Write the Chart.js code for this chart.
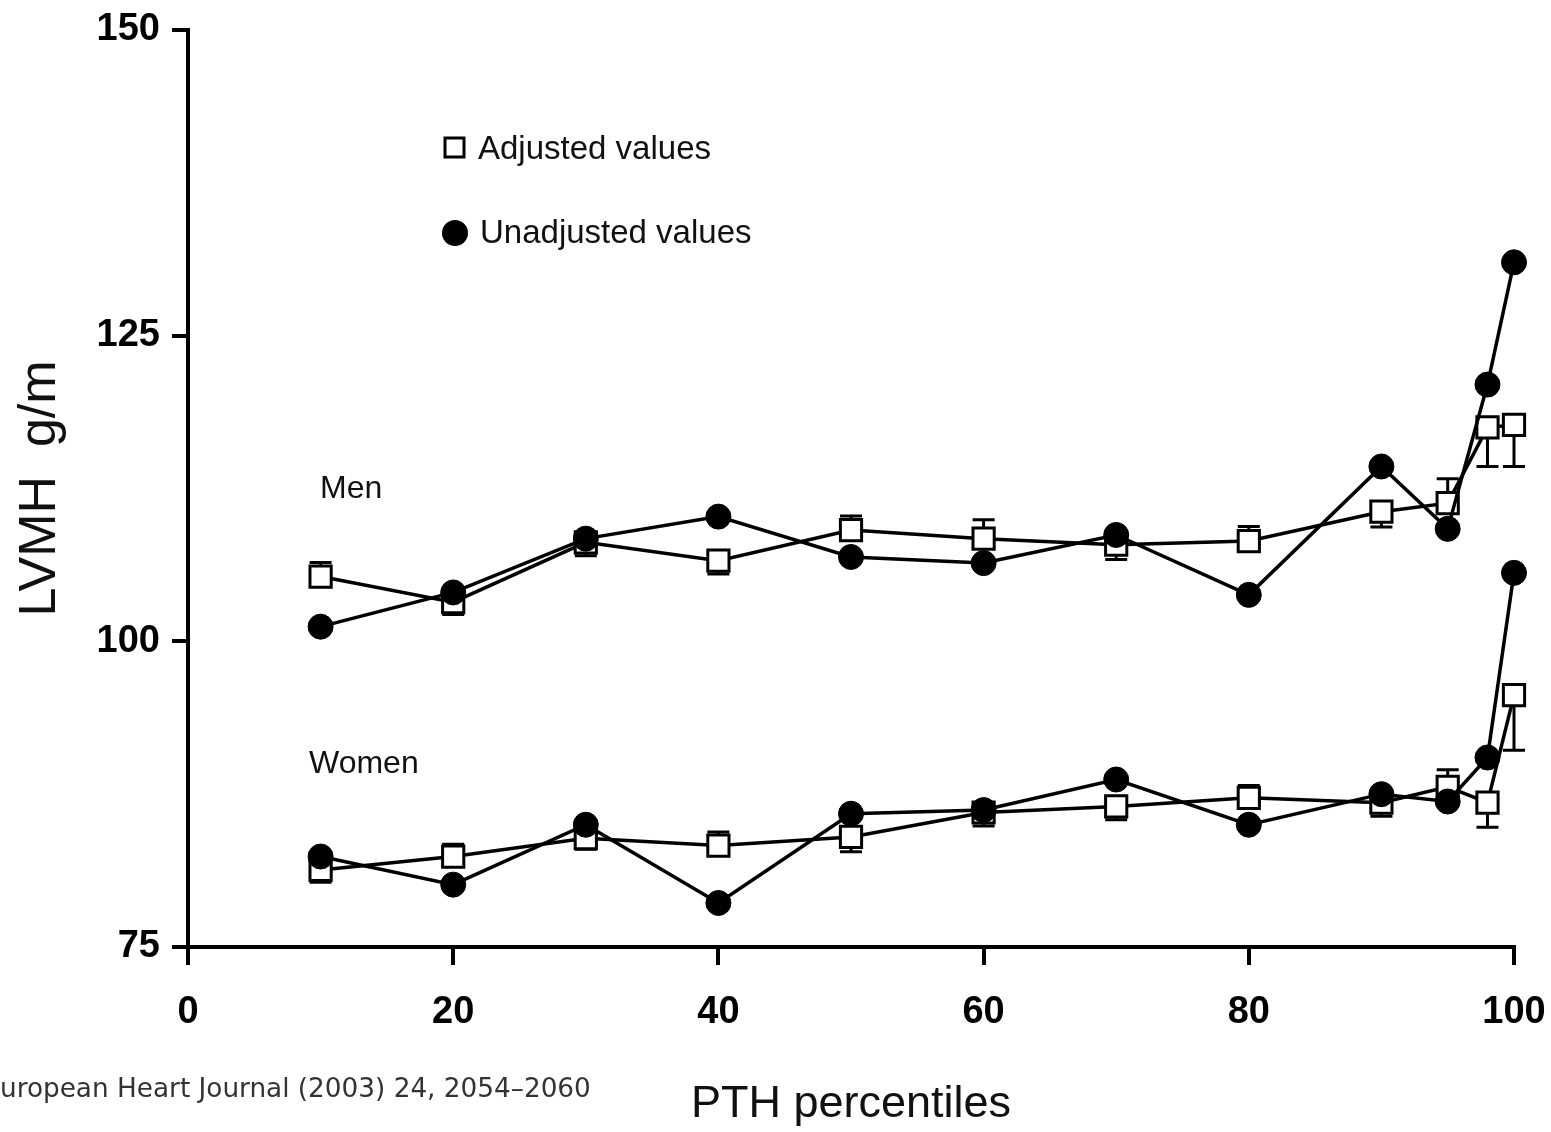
<!DOCTYPE html>
<html>
<head>
<meta charset="utf-8">
<title>LVMH by PTH percentiles</title>
<script src="https://cdn.jsdelivr.net/npm/chart.js@4/dist/chart.umd.min.js"></script>
<style>
  html, body { margin: 0; padding: 0; background: #fff; }
  #wrap { width: 1551px; height: 1132px; }
</style>
</head>
<body>
<div id="wrap"><canvas id="chart" width="1551" height="1132"></canvas></div>
<script>
// PTH percentile groups (x positions)
const percentiles = [10, 20, 30, 40, 50, 60, 70, 80, 90, 95, 98, 100];

// LVMH g/m
const menAdjusted     = [105.3, 103.2, 108.1, 106.6, 109.1, 108.4, 107.9, 108.2, 110.6, 111.3, 117.5, 117.7];
const menAdjustedErr  = [1.15, -1.0, -1.1, -1.1, 1.15, 1.55, -1.2, 1.2, -1.25, 2.0, -3.2, -3.4];
const menUnadjusted   = [101.2, 104.0, 108.4, 110.2, 106.9, 106.4, 108.7, 103.8, 114.3, 109.2, 121.0, 131.0];

const womenAdjusted    = [81.3, 82.4, 83.9, 83.3, 84.0, 86.0, 86.5, 87.2, 86.8, 88.1, 86.8, 95.6];
const womenAdjustedErr = [-1.0, 1.0, -0.9, 1.1, -1.2, -1.1, -1.1, 1.0, -1.1, 1.4, -2.0, -4.5];
const womenUnadjusted  = [82.4, 80.1, 85.0, 78.6, 85.9, 86.2, 88.7, 85.0, 87.5, 86.9, 90.5, 105.6];

const yTicks = [75, 100, 125, 150];
const xTicks = [0, 20, 40, 60, 80, 100];

const TICK_FONT = { family: "'Liberation Sans Narrow', 'Arial Narrow', 'Liberation Sans', Arial, sans-serif", size: 38, weight: 'bold' };
const TEXT_FONT = "'Liberation Sans', Arial, sans-serif";

function toPoints(values) {
  return values.map((v, i) => ({ x: percentiles[i], y: v }));
}

function circleSet(label, values) {
  return {
    label, data: toPoints(values), order: 0,
    borderColor: '#000', borderWidth: 3.5,
    pointStyle: 'circle', pointRadius: 12.5,
    pointBackgroundColor: '#000', pointBorderColor: '#000', pointBorderWidth: 1,
  };
}

function squareSet(label, values, errors) {
  return {
    label, data: toPoints(values), errors, order: 1,
    borderColor: '#000', borderWidth: 3.5,
    pointStyle: 'rect', pointRadius: 15,
    pointBackgroundColor: '#fff', pointBorderColor: '#000', pointBorderWidth: 3,
  };
}

// one-sided SEM bars for the adjusted series, plus legend and free text
const overlayPlugin = {
  id: 'overlay',
  beforeDatasetsDraw(chart) {
    const { ctx, scales: { x, y } } = chart;
    ctx.save();
    ctx.strokeStyle = '#000';
    ctx.lineWidth = 3;
    chart.data.datasets.forEach((ds) => {
      if (!ds.errors) return;
      ds.data.forEach((p, i) => {
        const px = x.getPixelForValue(p.x);
        const py0 = y.getPixelForValue(p.y);
        const py1 = y.getPixelForValue(p.y + ds.errors[i]);
        ctx.beginPath();
        ctx.moveTo(px, py0);
        ctx.lineTo(px, py1);
        ctx.moveTo(px - 11, py1);
        ctx.lineTo(px + 11, py1);
        ctx.stroke();
      });
    });
    ctx.restore();
  },
  afterDraw(chart) {
    const { ctx } = chart;
    ctx.save();
    ctx.textBaseline = 'middle';
    ctx.textAlign = 'left';

    // legend
    ctx.fillStyle = '#fff';
    ctx.strokeStyle = '#000';
    ctx.lineWidth = 3;
    ctx.fillRect(445, 138, 19, 19);
    ctx.strokeRect(445, 138, 19, 19);
    ctx.fillStyle = '#000';
    ctx.beginPath();
    ctx.arc(455, 233, 13, 0, Math.PI * 2);
    ctx.fill();

    ctx.fillStyle = '#111';
    ctx.font = `33px ${TEXT_FONT}`;
    ctx.fillText('Adjusted values', 478, 150);
    ctx.fillText('Unadjusted values', 480, 234);

    // group labels
    ctx.font = `32px ${TEXT_FONT}`;
    ctx.fillText('Men', 320, 489);
    ctx.fillText('Women', 309, 764);

    // source line, cut at the left edge like the original
    const cite = 'European Heart Journal (2003) 24, 2054\u20132060';
    ctx.font = "24px 'DejaVu Sans', Verdana, sans-serif";
    const visible = ctx.measureText(cite.slice(1)).width;
    const size = 24 * 590 / visible;
    ctx.font = `${size.toFixed(1)}px 'DejaVu Sans', Verdana, sans-serif`;
    const lead = ctx.measureText('E').width;
    ctx.fillStyle = '#333';
    ctx.fillText(cite, -lead, 1090);
    ctx.restore();
  },
};

new Chart(document.getElementById('chart'), {
  type: 'scatter',
  data: {
    datasets: [
      circleSet('Men unadjusted', menUnadjusted),
      circleSet('Women unadjusted', womenUnadjusted),
      squareSet('Men adjusted', menAdjusted, menAdjustedErr),
      squareSet('Women adjusted', womenAdjusted, womenAdjustedErr),
    ].map((d) => ({ ...d, showLine: true, clip: false })),
  },
  options: {
    responsive: false,
    animation: false,
    events: [],
    layout: { autoPadding: false, padding: { top: 30, right: 37, bottom: 0, left: 0 } },
    plugins: {
      legend: { display: false },
      tooltip: { enabled: false },
    },
    scales: {
      x: {
        type: 'linear', min: 0, max: 100,
        afterBuildTicks: (s) => { s.ticks = xTicks.map((v) => ({ value: v })); },
        afterFit: (s) => { s.height = 185; s.paddingLeft = 0; s.paddingRight = 0; },
        border: { display: true, color: '#000', width: 4 },
        grid: { drawOnChartArea: false, drawTicks: true, tickLength: 18, color: '#000', lineWidth: 4 },
        ticks: { color: '#000', font: TICK_FONT, padding: 25, maxRotation: 0 },
        title: {
          display: true, text: 'PTH percentiles', color: '#111',
          font: { family: TEXT_FONT, size: 45 }, padding: { top: 0, bottom: 0 },
        },
      },
      y: {
        type: 'linear', min: 75, max: 150,
        afterBuildTicks: (s) => { s.ticks = yTicks.map((v) => ({ value: v })); },
        afterFit: (s) => { s.width = 188; s.paddingTop = 0; s.paddingBottom = 0; },
        border: { display: true, color: '#000', width: 4 },
        grid: { drawOnChartArea: false, drawTicks: true, tickLength: 16, color: '#000', lineWidth: 4 },
        ticks: { color: '#000', font: TICK_FONT, padding: 12 },
        title: {
          display: true, text: 'LVMH  g/m', color: '#111',
          font: { family: TEXT_FONT, size: 52 }, padding: { top: 9, bottom: 0 },
        },
      },
    },
  },
  plugins: [overlayPlugin],
});
</script>
</body>
</html>
